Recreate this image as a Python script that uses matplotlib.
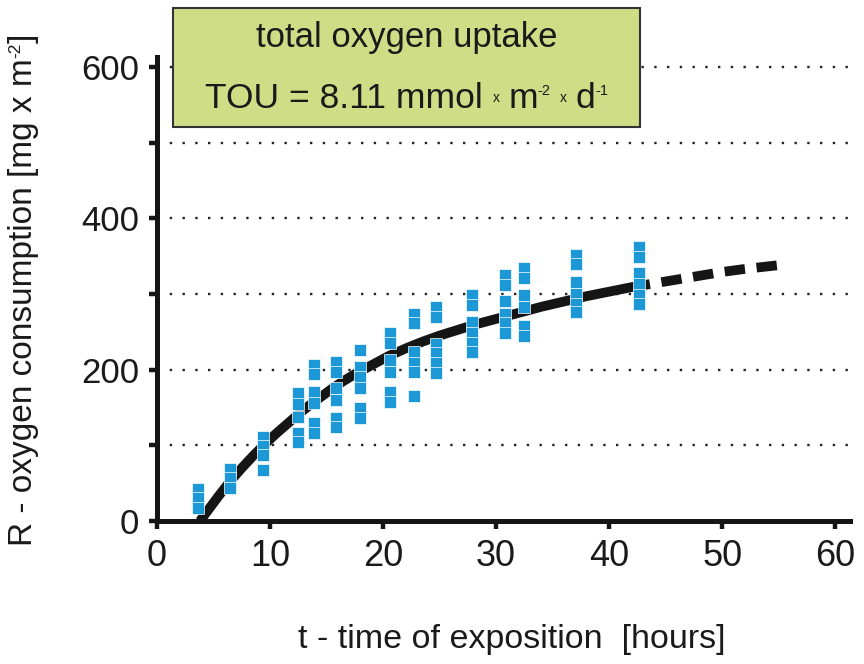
import matplotlib
matplotlib.use('Agg')
import matplotlib.pyplot as plt
from matplotlib.patches import Rectangle

plt.rcParams['font.family'] = ['Liberation Sans', 'DejaVu Sans']

# ---- data ----
times = [3.6, 6.5, 9.4, 12.5, 13.9, 15.8, 18.0, 20.6, 22.7, 24.7, 27.9, 30.8, 32.5, 37.1, 42.6]
values = [
    [42, 30, 17],
    [69, 57, 44],
    [111, 99, 87, 68],
    [169, 155, 138, 116, 104],
    [206, 194, 170, 156, 129, 116],
    [210, 197, 176, 160, 136, 124],
    [226, 203, 190, 176, 149, 136],
    [248, 235, 213, 197, 170, 157],
    [274, 262, 223, 209, 197, 165],
    [283, 270, 234, 222, 209, 195],
    [299, 285, 263, 249, 235, 223],
    [325, 312, 290, 273, 261, 249],
    [334, 321, 298, 283, 258, 244],
    [351, 339, 316, 300, 287, 276],
    [362, 349, 327, 313, 299, 287],
]

fit_t = [3.8, 4.5, 5.5, 6.5, 7.5, 8.5, 9.5, 10.5, 11.5, 12.5, 13.5, 14.5, 15.5, 16.5,
         17.5, 18.5, 19.5, 20.5, 22, 23.5, 25, 26.5, 28, 30, 32, 34, 36, 38, 40, 42, 43.6]
fit_r = [0, 14, 34, 53, 70, 86, 101, 115, 128, 141, 153, 164, 175, 185,
         194, 202, 210, 218, 228, 237, 245, 252, 259, 267, 275, 283, 290, 297, 303, 309, 313]
ext_t = [43.6, 46, 48, 50, 52, 55]
ext_r = [313, 319, 324, 329, 333, 338]

x_ticks = [0, 10, 20, 30, 40, 50, 60]
y_ticks = [0, 200, 400, 600]
y_minor = [100, 300, 500]
grid_levels = [100, 200, 300, 400, 500, 600]

W, H = 864, 664
INK = '#151515'

# ---- figure ----
fig = plt.figure(figsize=(W / 100, H / 100), dpi=100)
ax = fig.add_axes([157 / W, 1 - 521 / H, (850 - 157) / W, (521 - 57) / H])
ax.set_xlim(0, 61.3)
ax.set_ylim(0, 613)

for g in grid_levels:
    ax.axhline(g, color='#222222', lw=1.7, linestyle=(0, (1, 4.4)), zorder=1)

ax.plot(fit_t, fit_r, color=INK, lw=7, solid_capstyle='butt', solid_joinstyle='round', zorder=2)
ax.plot(ext_t, ext_r, color=INK, lw=7, linestyle=(2.1, (2.1, 1.2)),
        dash_capstyle='butt', zorder=2)

tx, vy = [], []
for t, vs in zip(times, values):
    for v in vs:
        tx.append(t)
        vy.append(v)
ax.plot(tx, vy, 's', ms=8.1, color='#1B98D5', mec='white', mew=0.5, zorder=3,
        clip_on=False)

for side in ['top', 'right']:
    ax.spines[side].set_visible(False)
for side in ['left', 'bottom']:
    ax.spines[side].set_linewidth(3.6)
    ax.spines[side].set_color(INK)

ax.set_xticks(x_ticks)
ax.set_yticks(y_ticks)
ax.set_yticks(y_minor, minor=True)
ax.tick_params(axis='both', which='both', direction='out', length=6, width=3.2,
               color=INK, pad=7, labelcolor='#1a1a1a')
ax.tick_params(axis='y', labelsize=25)
ax.tick_params(axis='x', labelsize=26)

ax.set_xlabel('t - time of exposition  [hours]', fontsize=24.5, color='#1a1a1a', va='center')
ax.xaxis.set_label_coords(0.512, -0.256)

renderer = fig.canvas.get_renderer()


def place_runs(runs, x0, y0, rotation=0):
    """runs: (text, fontsize, rise_px) or (None, gap_px, 0); x0,y0 in px from bottom-left.
    Text is centred along the reading direction around (x0, y0) which is on the baseline."""
    widths = []
    for s, size, rise in runs:
        if s is None:
            widths.append(size)
            continue
        tmp = fig.text(0, 0, s, fontsize=size)
        widths.append(tmp.get_window_extent(renderer).width)
        tmp.remove()
    pos = -sum(widths) / 2
    for (s, size, rise), w in zip(runs, widths):
        if s is not None:
            if rotation == 0:
                x, y = x0 + pos, y0 + rise
            else:
                x, y = x0 - rise, y0 + pos
            fig.text(x / W, y / H, s, fontsize=size, rotation=rotation,
                     rotation_mode='anchor', ha='left', va='baseline',
                     color='#1a1a1a', zorder=6)
        pos += w


# y-axis label
place_runs([('R - oxygen consumption [mg x m', 24, 0),
            ('-2', 12.5, 12),
            (']', 24, 0)], x0=32, y0=H - 290, rotation=90)

# box
box = Rectangle((173 / W, 1 - 127 / H), (640 - 173) / W, (127 - 8) / H,
                transform=fig.transFigure, facecolor='#CFDE86', edgecolor='#333333',
                lw=1.5, zorder=5)
fig.add_artist(box)
place_runs([('total oxygen uptake', 25, 0)], x0=406.5, y0=H - 47)

sp25 = 0.278 * 25 * 100 / 72
place_runs([('TOU = 8.11 mmol', 25.5, 0), (None, sp25, 0),
            ('x', 10, 6), (None, sp25 * 0.9, 0),
            ('m', 25.5, 0), ('-2', 10.5, 13), (None, sp25 * 0.9, 0),
            ('x', 10, 6), (None, sp25 * 0.9, 0),
            ('d', 25.5, 0), ('-1', 10.5, 13)], x0=406.5, y0=H - 108)

fig.savefig('out.png', dpi=100)
